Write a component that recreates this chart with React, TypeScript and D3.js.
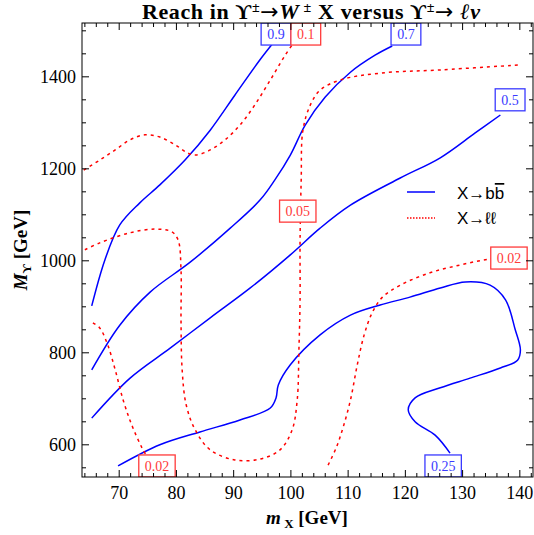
import React from "react";
import * as d3 from "d3";

// ---- data (m_X [GeV], M_Y [GeV]) ----
const blue09: [number, number][] = [
  [65.2, 902], [67.5, 1002], [70.1, 1078], [73.6, 1126], [77.1, 1165], [81.5, 1219],
  [85.9, 1284], [90.2, 1360], [94.6, 1437], [97.0, 1475],
];
const blue07: [number, number][] = [
  [65.2, 763], [70.1, 860], [75.4, 932], [82.4, 997], [89.4, 1071], [94.6, 1132],
  [97.2, 1176], [99.9, 1230], [102.5, 1295], [106.0, 1356], [110.4, 1410], [114.7, 1447], [117.7, 1467],
];
const blue05: [number, number][] = [
  [65.2, 658], [71.9, 745], [78.9, 810], [85.9, 876], [92.9, 941], [99.9, 1013],
  [105.1, 1071], [110.4, 1121], [119.1, 1180], [126.1, 1224], [132.2, 1278], [136.6, 1317],
];
const blue025: [number, number][] = [
  [69.8, 554], [77.1, 600], [84.1, 628], [91.1, 654], [96.4, 680], [97.4, 702], [97.8, 730],
  [99.9, 774], [105.1, 839], [110.4, 882], [115.6, 904], [120.8, 921], [126.1, 941],
  [130.5, 954], [134.8, 947], [137.5, 915], [139.2, 850], [140.1, 806], [139.6, 784],
  [136.6, 767], [131.3, 745], [126.1, 724], [121.7, 702], [120.5, 676], [121.7, 650],
  [125.2, 621], [127.8, 582],
];
const red01: [number, number][] = [
  [63.8, 1197], [66.6, 1219], [69.3, 1241], [71.9, 1263], [74.5, 1274], [77.1, 1269],
  [79.8, 1252], [82.0, 1234], [83.4, 1230], [85.9, 1241], [88.5, 1263], [91.1, 1295],
  [93.7, 1339], [96.4, 1393], [99.0, 1447], [100.6, 1476],
];
const red005: [number, number][] = [
  [64.0, 1024], [66.6, 1039], [71.9, 1061], [76.3, 1069], [79.2, 1063], [80.3, 1045],
  [80.8, 980], [80.8, 871], [81.0, 763], [81.7, 687], [83.3, 632], [85.9, 589],
  [90.2, 567], [94.6, 569], [98.1, 589], [100.2, 632], [101.1, 697], [101.4, 806],
  [101.6, 915], [101.6, 1045], [101.8, 1176], [102.1, 1284], [103.4, 1339], [105.1, 1371],
  [108.6, 1393], [115.6, 1408], [126.1, 1415], [140.1, 1426],
];
const red002a: [number, number][] = [
  [65.4, 865], [66.6, 854], [68.0, 817], [69.3, 763], [70.7, 697], [72.2, 643],
  [74.0, 593], [75.4, 563],
];
const red002b: [number, number][] = [
  [106.5, 556], [107.9, 593], [109.1, 637], [110.4, 697], [111.6, 774], [112.8, 839],
  [114.2, 887], [116.0, 921], [119.1, 947], [124.3, 974], [129.6, 991], [134.8, 1004],
  [140.5, 1010],
];

const blueCurves = [blue09, blue07, blue05, blue025];
const redCurves = [red01, red005, red002a, red002b];

const labelTexts = ["0.9", "0.1", "0.7", "0.5", "0.05", "0.02", "0.02", "0.25"];
const labelX = [97.4, 102.6, 120.1, 138.3, 101.2, 76.6, 138.1, 126.6];
const labelY = [1493, 1493, 1493, 1350, 1108, 554, 1006, 554];
const labelSeries = ["b", "r", "b", "b", "r", "r", "r", "b"];

const xTicks = [70, 80, 90, 100, 110, 120, 130, 140];
const yTicks = [600, 800, 1000, 1200, 1400];

const W = 534, H = 535;
const L = 82, R = 533, T = 23, B = 477;

const BLUE = "#0000ff";
const RED = "#ff0000";
const BLUE_L = "#3a3aff";
const RED_L = "#ff3a3a";

export default function App() {
  const x = d3.scaleLinear().domain([63.5, 142.3]).range([L, R]);
  const y = d3.scaleLinear().domain([530, 1517]).range([B, T]);
  const line = d3
    .line<[number, number]>()
    .x((d) => x(d[0]))
    .y((d) => y(d[1]))
    .curve(d3.curveCatmullRom.alpha(0.5));

  const xMinor = d3.range(64, 143, 2).filter((v) => v % 10 !== 0);
  const yMinor = d3.range(550, 1517, 50).filter((v) => v % 200 !== 0);

  const serif = "'Liberation Serif', 'Times New Roman', serif";
  const sans = "'Liberation Sans', Arial, sans-serif";
  const arrowFont = "'DejaVu Sans', sans-serif";

  return (
    <svg width={W} height={H} style={{ position: "absolute", left: 0, top: 0 }} fontFamily={serif}>
      <defs>
        <clipPath id="plot">
          <rect x={L} y={T} width={R - L} height={B - T} />
        </clipPath>
      </defs>
      <rect x={0} y={0} width={W} height={H} fill="white" />
      <g clipPath="url(#plot)">
        {blueCurves.map((c, i) => (
          <path key={"b" + i} d={line(c) || ""} fill="none" stroke={BLUE} strokeWidth={1.5} />
        ))}
        {redCurves.map((c, i) => (
          <path key={"r" + i} d={line(c) || ""} fill="none" stroke={RED} strokeWidth={1.5} strokeDasharray="3,4" />
        ))}
        {labelTexts.map((t, i) => {
          const cx = x(labelX[i]);
          const cy = y(labelY[i]);
          const w = 6.6 * t.length + 10;
          const h = 22;
          const col = labelSeries[i] === "b" ? BLUE_L : RED_L;
          return (
            <g key={"l" + i}>
              <rect x={cx - w / 2} y={cy - h / 2} width={w} height={h} fill="white" stroke={col} strokeWidth={1.3} />
              <text x={cx} y={cy + 5} textAnchor="middle" fontSize={14} fill={col}>
                {t}
              </text>
            </g>
          );
        })}
      </g>
      {/* frame */}
      <rect x={L} y={T} width={R - L} height={B - T} fill="none" stroke="black" strokeWidth={1} />
      {/* ticks */}
      {xTicks.map((v) => (
        <g key={"xt" + v}>
          <line x1={x(v)} x2={x(v)} y1={B} y2={B - 7} stroke="black" />
          <line x1={x(v)} x2={x(v)} y1={T} y2={T + 7} stroke="black" />
          <text x={x(v)} y={499} textAnchor="middle" fontSize={18}>
            {v}
          </text>
        </g>
      ))}
      {xMinor.map((v) => (
        <g key={"xm" + v}>
          <line x1={x(v)} x2={x(v)} y1={B} y2={B - 4} stroke="black" />
          <line x1={x(v)} x2={x(v)} y1={T} y2={T + 4} stroke="black" />
        </g>
      ))}
      {yTicks.map((v) => (
        <g key={"yt" + v}>
          <line x1={L} x2={L + 7} y1={y(v)} y2={y(v)} stroke="black" />
          <line x1={R} x2={R - 7} y1={y(v)} y2={y(v)} stroke="black" />
          <text x={76} y={y(v) + 6} textAnchor="end" fontSize={18}>
            {v}
          </text>
        </g>
      ))}
      {yMinor.map((v) => (
        <g key={"ym" + v}>
          <line x1={L} x2={L + 4} y1={y(v)} y2={y(v)} stroke="black" />
          <line x1={R} x2={R - 4} y1={y(v)} y2={y(v)} stroke="black" />
        </g>
      ))}
      {/* title */}
      <text x={142} y={19} fontSize={22} fontWeight="bold" textLength={338} lengthAdjust="spacing">
        <tspan>Reach in ϒ</tspan>
        <tspan fontSize={14} dy={-7}>±</tspan>
        <tspan dy={7} fontFamily={arrowFont} fontWeight="normal">→</tspan>
        <tspan fontStyle="italic">W</tspan>
        <tspan fontSize={14} dy={-7}> ±</tspan>
        <tspan dy={7}> X versus ϒ</tspan>
        <tspan fontSize={14} dy={-7}>±</tspan>
        <tspan dy={7} fontFamily={arrowFont} fontWeight="normal">→</tspan>
        <tspan> </tspan>
        <tspan fontStyle="italic">ℓν</tspan>
      </text>
      {/* x label */}
      <text x={307} y={524} textAnchor="middle" fontSize={19} fontWeight="bold">
        <tspan fontStyle="italic">m</tspan>
        <tspan fontSize={13} dy={4}> X</tspan>
        <tspan dy={-4}> [GeV]</tspan>
      </text>
      {/* y label */}
      <text transform={`translate(27,250) rotate(-90)`} textAnchor="middle" fontSize={19} fontWeight="bold">
        <tspan fontStyle="italic">M</tspan>
        <tspan fontSize={13} dy={4}>ϒ</tspan>
        <tspan dy={-4}> [GeV]</tspan>
      </text>
      {/* legend */}
      <g fontFamily={sans} fontSize={17}>
        <line x1={407} x2={435} y1={192} y2={192} stroke={BLUE} strokeWidth={1.5} />
        <text x={457} y={199}>
          X→b<tspan style={{ textDecoration: "overline" }}>b</tspan>
        </text>
        <line x1={407} x2={435} y1={218} y2={218} stroke={RED} strokeWidth={1.5} strokeDasharray="1.5,1.5" />
        <text x={457} y={224}>X→ℓℓ</text>
      </g>
    </svg>
  );
}
